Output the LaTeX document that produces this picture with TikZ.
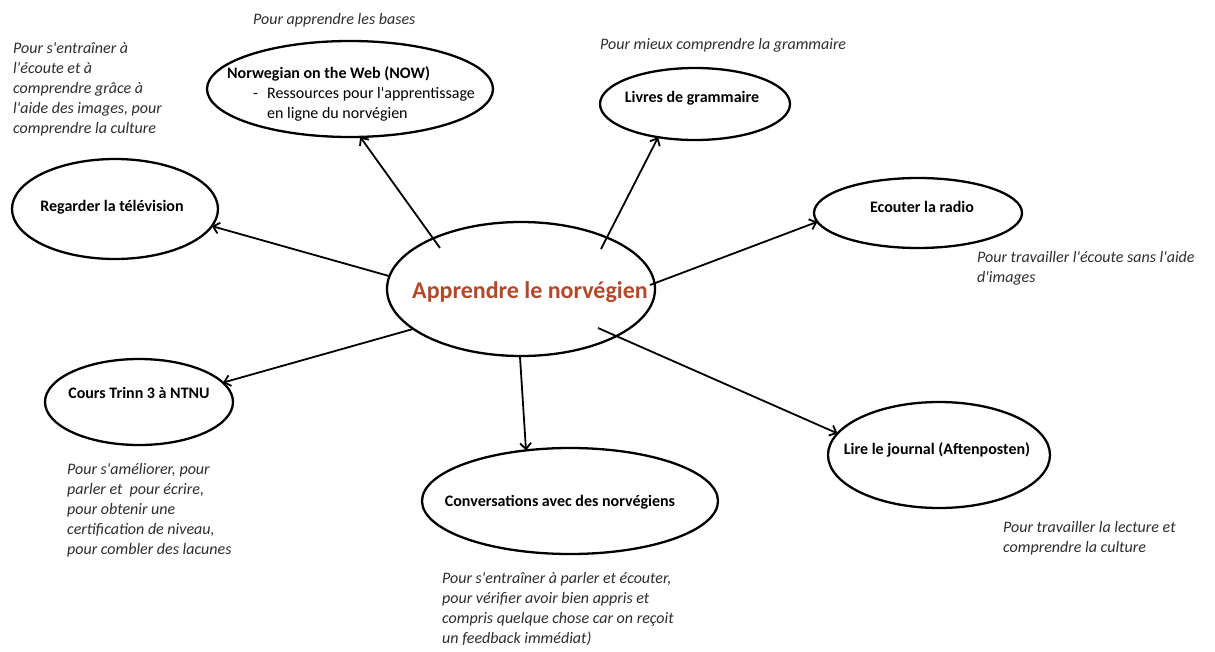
\documentclass[tikz,border=0pt]{standalone}
\usepackage{fontspec}
\setmainfont{Carlito}
\usetikzlibrary{shapes.geometric,arrows.meta}
\definecolor{rust}{RGB}{178,72,42}
\definecolor{notegray}{RGB}{45,45,45}
\newcommand{\ap}{\textquotesingle}
\begin{document}
\begin{tikzpicture}[x=1pt,y=-1pt,
  ell/.style={draw, ellipse, line width=2.3pt, inner sep=0pt, outer sep=0pt},
  arr/.style={line width=1.8pt, -{Straight Barb[length=6pt,width=11pt]}},
  lbl/.style={inner sep=0pt, font=\fontsize{16}{20}\selectfont\bfseries},
  note/.style={inner sep=0pt, anchor=west, align=left, text=notegray, font=\fontsize{16}{20}\selectfont\itshape}]
\fill[white] (0,0) rectangle (1215,651);
\useasboundingbox (0,0) rectangle (1215,651);

% ellipses
\node[ell, minimum width=268pt, minimum height=134pt] (main) at (521,289) {};
\node[ell, minimum width=286pt, minimum height=96pt] (now) at (350,89) {};
\node[ell, minimum width=190pt, minimum height=72pt] (gram) at (695,104) {};
\node[ell, minimum width=206pt, minimum height=100pt] (tele) at (115,209) {};
\node[ell, minimum width=208pt, minimum height=70pt] (radio) at (918,213) {};
\node[ell, minimum width=188pt, minimum height=86pt] (cours) at (139,402) {};
\node[ell, minimum width=296pt, minimum height=106pt] (conv) at (570,501) {};
\node[ell, minimum width=222pt, minimum height=106pt] (lire) at (939,455) {};

% texts in ellipses
\node[inner sep=0pt, text=rust, font=\fontsize{24}{28}\selectfont\bfseries] (main-t) at (530,292) {Apprendre le norvégien};
\node[inner sep=0pt, anchor=west, align=left, font=\fontsize{16}{20}\selectfont] (now-t) at (227,94)
  {\textbf{Norwegian on the Web (NOW)}\\\hspace*{26pt}-\hspace*{9pt}Ressources pour l\ap apprentissage\\\hspace*{40pt}en ligne du norvégien};
\node[lbl] (gram-t) at (692,98) {Livres de grammaire};
\node[lbl] (tele-t) at (112,207) {Regarder la télévision};
\node[lbl] (radio-t) at (922,207) {Ecouter la radio};
\node[lbl] (cours-t) at (139,393) {Cours Trinn 3 à NTNU};
\node[lbl] (conv-t) at (560,502) {Conversations avec des norvégiens};
\node[lbl] (lire-t) at (937,450) {Lire le journal (Aftenposten)};

% arrow starts inside the central ellipse
\coordinate (s-now) at (440,248);
\coordinate (s-gram) at (601,249);
\coordinate (s-tele) at (389,276);
\coordinate (s-radio) at (650,285);
\coordinate (s-cours) at (413,329);
\coordinate (s-conv) at (520,357);
\coordinate (s-lire) at (598,328);

\draw[arr] (s-now) -- (now.-78);
\draw[arr] (s-gram) -- (gram.-138);
\draw[arr] (s-tele) -- (tele.-10);
\draw[arr] (s-radio) -- (radio.185);
\draw[arr] (s-cours) -- (cours.13);
\draw[arr] (s-conv) -- (conv.131);
\draw[arr] (s-lire) -- (lire.168);

% annotations
\node[note] (n-now) at (253,20) {Pour apprendre les bases};
\node[note] (n-tele) at (13,89) {Pour s\ap entraîner à\\l\ap écoute et à\\comprendre grâce à\\l\ap aide des images, pour\\comprendre la culture};
\node[note] (n-gram) at (600,45) {Pour mieux comprendre la grammaire};
\node[note] (n-radio) at (977,268) {Pour travailler l\ap écoute sans l\ap aide\\d\ap images};
\node[note] (n-cours) at (67,510) {Pour s\ap améliorer, pour\\parler et~ pour écrire,\\pour obtenir une\\certification de niveau,\\pour combler des lacunes};
\node[note] (n-conv) at (442,609) {Pour s\ap entraîner à parler et écouter,\\pour vérifier avoir bien appris et\\compris quelque chose car on reçoit\\un feedback immédiat)};
\node[note] (n-lire) at (1003,538) {Pour travailler la lecture et\\comprendre la culture};
\end{tikzpicture}
\end{document}
